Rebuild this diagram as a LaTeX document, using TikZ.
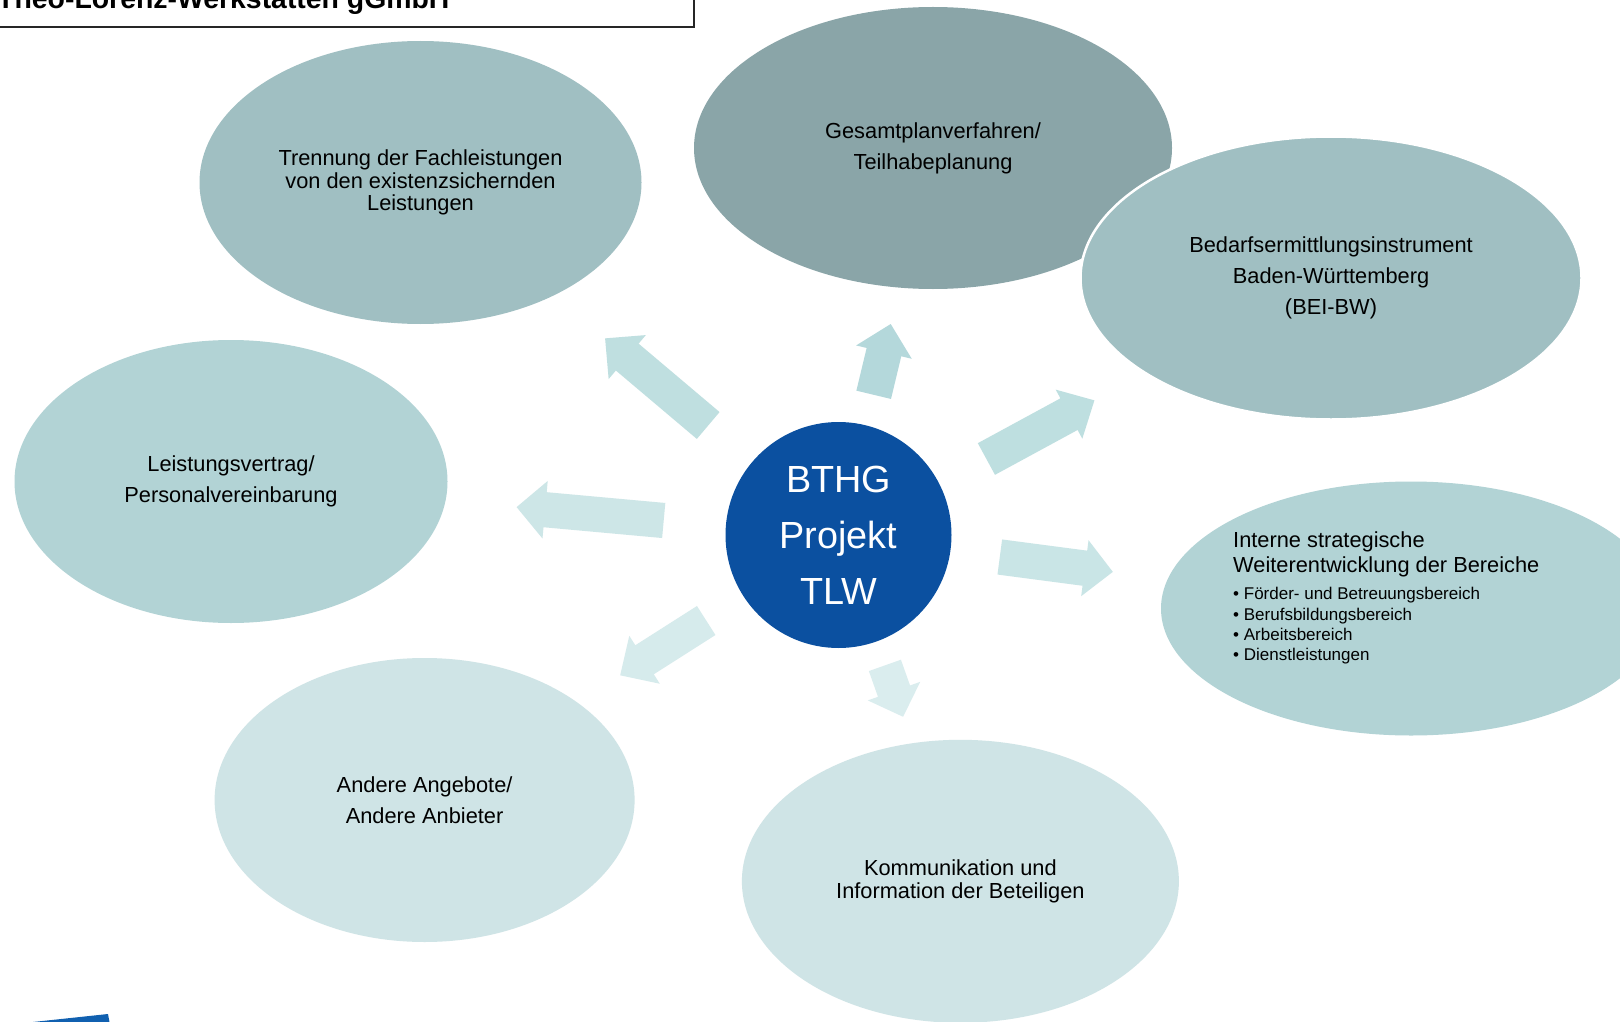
\documentclass[tikz,border=0pt]{standalone}
\usepackage{fontspec}
\setmainfont{Liberation Sans}
\usetikzlibrary{shapes.geometric}
\definecolor{ellA}{RGB}{160,191,194}
\definecolor{ellB}{RGB}{138,165,168}
\definecolor{ellC}{RGB}{178,211,213}
\definecolor{ellD}{RGB}{207,228,230}
\definecolor{coreblue}{RGB}{11,80,160}
\definecolor{logoblue}{RGB}{16,96,176}
\definecolor{arrNW}{RGB}{191,223,224}
\definecolor{arrN}{RGB}{180,216,219}
\definecolor{arrNE}{RGB}{190,223,224}
\definecolor{arrE}{RGB}{201,229,230}
\definecolor{arrW}{RGB}{205,230,231}
\definecolor{arrSW}{RGB}{214,235,236}
\definecolor{arrS}{RGB}{218,237,238}
% block arrow: colour, tail middle, angle, shaft length, shaft half width, head half width, head length
\newcommand\blockarrow[7]{%
  \fill[#1,shift={(#2)},rotate=#3] (0,-#5) -- (#4,-#5) -- (#4,-#6) -- (#4+#7,0)
    -- (#4,#6) -- (#4,#5) -- (0,#5) -- cycle;}
\begin{document}
\begin{tikzpicture}[x=1pt,y=-1pt,
  bubble/.style={ellipse, inner sep=0pt, align=center, text=black,
    font=\fontsize{21.8}{22.8}\selectfont},
  loose/.style={font=\fontsize{21.8}{30.8}\selectfont},
  titleline/.style={anchor=base west, inner sep=0pt, font=\fontsize{21.8}{24}\selectfont},
  bulletline/.style={anchor=base west, inner sep=0pt, font=\fontsize{17}{20}\selectfont}]
\useasboundingbox (0,0) rectangle (1620,1022);
\clip (0,0) rectangle (1620,1022);
\fill[white] (0,0) rectangle (1620,1022);

% header box (cut off at the top)
\draw[line width=1.6pt, black!85] (-20,-60) rectangle (694,27);
\node (hdr) [anchor=base west, inner sep=0pt, font=\fontsize{28.4}{30}\selectfont\bfseries]
  at (-3,8.2) {Theo-Lorenz-Werkstätten gGmbH};

% ellipses
\node (trennung) [bubble, fill=ellA, minimum width=442pt, minimum height=283pt]
  at (420.5,182.5) {Trennung der Fachleistungen\\von den existenzsichernden\\Leistungen};
\node (gesamt) [bubble, loose, fill=ellB, minimum width=478pt, minimum height=282pt]
  at (933,148) {Gesamtplanverfahren/\\Teilhabeplanung};
\node (bedarf) [bubble, loose, fill=ellA, draw=white, line width=2.5pt,
  minimum width=501pt, minimum height=283pt]
  at (1331,278) {Bedarfsermittlungsinstrument\\Baden-Württemberg\\(BEI-BW)};
\node (leistung) [bubble, loose, fill=ellC, minimum width=433pt, minimum height=283pt]
  at (231,481.5) {Leistungsvertrag/\\Personalvereinbarung};
\node (interne) [bubble, fill=ellC, minimum width=500pt, minimum height=254pt]
  at (1411,608.5) {};
\node (andere) [bubble, loose, fill=ellD, minimum width=420pt, minimum height=284pt]
  at (424.6,800) {Andere Angebote/\\Andere Anbieter};
\node (komm) [bubble, fill=ellD, minimum width=437pt, minimum height=283pt]
  at (960.4,881.3) {Kommunikation und\\Information der Beteiligen};

% text of the right ellipse
\node (int1) [titleline] at (1233,547.5) {Interne strategische};
\node (int2) [titleline] at (1233,572) {Weiterentwicklung der Bereiche};
\node (int3) [bulletline] at (1233,599.5) {• Förder- und Betreuungsbereich};
\node (int4) [bulletline] at (1233,620) {• Berufsbildungsbereich};
\node (int5) [bulletline] at (1233,640.5) {• Arbeitsbereich};
\node (int6) [bulletline] at (1233,660.5) {• Dienstleistungen};

% block arrows
\blockarrow{arrNW}{708.2,425.5}{139.8}{106}{17.6}{28.8}{29}
\blockarrow{arrN}{873.7,394.8}{76.5}{43.9}{17.8}{28.6}{28.9}
\blockarrow{arrNE}{986.4,459}{28.5}{94}{18}{27.9}{28.9}
\blockarrow{arrE}{999.8,557}{-7.5}{85.8}{17.7}{28.2}{28.2}
\blockarrow{arrW}{663.7,520.5}{174.8}{119.1}{17.6}{28.9}{28.6}
\blockarrow{arrSW}{706.2,620.5}{212.5}{73.1}{17.2}{28.4}{28.9}
\blockarrow{arrS}{884.9,665.4}{-70.5}{27.3}{17}{27.8}{27.2}

% centre
\node (core) [circle, fill=coreblue, minimum size=226pt, inner sep=0pt, text=white,
  align=center, font=\fontsize{37.8}{55.8}\selectfont] at (838.5,535) {BTHG\\Projekt\\TLW};

% logo fragment at bottom left
\fill[logoblue] (33,1022) -- (108,1014) -- (109.5,1022) -- cycle;
\end{tikzpicture}
\end{document}
